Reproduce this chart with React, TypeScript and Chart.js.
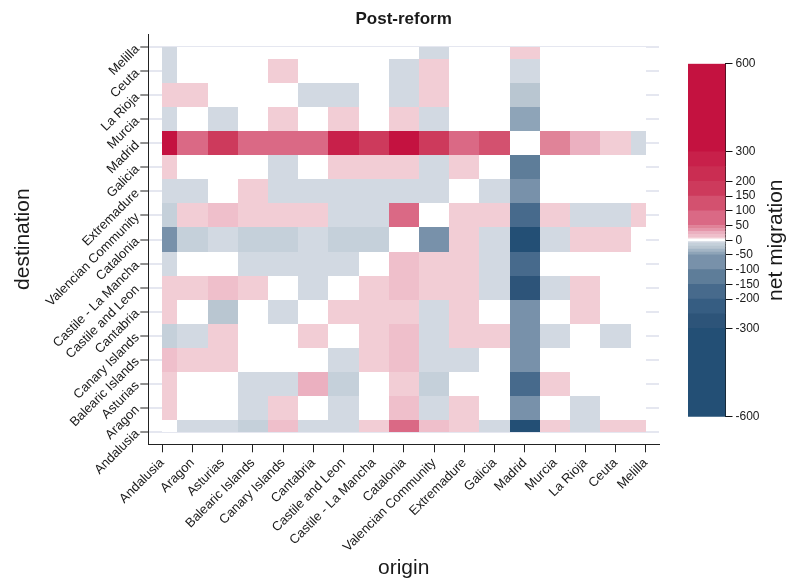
import React, { useEffect, useRef } from "react";
import { Chart, registerables } from "chart.js";

Chart.register(...registerables);

// ---------------- data ----------------
const origins = [
  "Andalusia", "Aragon", "Asturias", "Balearic Islands", "Canary Islands", "Cantabria",
  "Castile and Leon", "Castile - La Mancha", "Catalonia", "Valencian Community", "Extremadure",
  "Galicia", "Madrid", "Murcia", "La Rioja", "Ceuta", "Melilla",
];
const destinations = [
  "Andalusia", "Aragon", "Asturias", "Balearic Islands", "Canary Islands", "Cantabria",
  "Castile and Leon", "Castile - La Mancha", "Catalonia", "Valencian Community", "Extremadure",
  "Galicia", "Madrid", "Murcia", "La Rioja", "Ceuta", "Melilla",
];

// net migration into each destination, one value per origin (same order as `origins`)
const intoAndalusia = [0, -7, -7, -15, 15, -7, -7, 7, 80, 15, 7, -7, -400, 7, -7, 7, 7];
const intoAragon = [7, 0, 0, -7, 7, 0, -7, 0, 15, -7, 7, 0, -70, 0, -7, 0, 0];
const intoAsturias = [7, 0, 0, -7, -7, 25, -15, 0, 7, -15, 0, 0, -170, 7, 0, 0, 0];
const intoBalearic = [15, 7, 7, 0, 0, 0, -7, 7, 15, -7, -7, 0, -70, 0, 0, 0, 0];
const intoCanary = [-15, -7, 7, 0, 0, 7, 0, 7, 15, -7, 7, 7, -70, -7, 0, -7, 0];
const intoCantabria = [7, 0, -25, 0, -7, 0, 7, 7, 7, -7, 7, 0, -70, 0, 7, 0, 0];
const intoCastileLeon = [7, 7, 15, 7, 0, -7, 0, 7, 15, 7, 7, -7, -270, -7, 7, 0, 0];
const intoCastileLaMancha = [-7, 0, 0, -7, -7, -7, -7, 0, 15, 7, 7, -7, -170, 0, 0, 0, 0];
const intoCatalonia = [-70, -15, -7, -15, -15, -7, -15, -15, 0, -70, 7, -7, -400, -7, 7, 7, 0];
const intoValencian = [-15, 7, 15, 7, 7, 7, -7, -7, 80, 0, 7, 7, -170, 7, -7, -7, 7];
const intoExtremadure = [-7, -7, 0, 7, -7, -7, -7, -7, -7, -7, 0, -7, -70, 0, 0, 0, 0];
const intoGalicia = [7, 0, 0, 0, -7, 0, 7, 7, 7, -7, 7, 0, -120, 0, 0, 0, 0];
const intoMadrid = [400, 80, 180, 70, 75, 70, 280, 170, 450, 180, 70, 120, 0, 45, 25, 7, -7];
const intoMurcia = [-7, 0, -7, 0, 7, 0, 7, 0, 7, -7, 0, 0, -45, 0, 0, 0, 0];
const intoLaRioja = [7, 7, 0, 0, 0, -7, -7, 0, -7, 7, 0, 0, -25, 0, 0, 0, 0];
const intoCeuta = [-7, 0, 0, 0, 7, 0, 0, 0, -7, 7, 0, 0, -7, 0, 0, 0, 0];
const intoMelilla = [-7, 0, 0, 0, 0, 0, 0, 0, 0, -7, 0, 0, 7, 0, 0, 0, 0];

const colorbarTicks = [600, 300, 200, 150, 100, 50, 0, -50, -100, -150, -200, -300, -600];

// colour bins (lower bound, upper bound, colour)
const binEdges = [-600, -300, -250, -200, -150, -100, -50, -40, -30, -20, -10, -5, 5, 10, 20, 30, 40, 50, 100, 150, 200, 250, 300, 600];
const binColors = [
  "#234f75", "#2d5479", "#365d82", "#476a8c", "#5e7d99", "#7891aa", "#8ea4b8", "#a3b5c5",
  "#b9c6d1", "#c5d0da", "#d2d9e2", "#ffffff", "#f2cdd5", "#efbfcb", "#ebb0c0", "#e596aa",
  "#e08398", "#da6985", "#d3516f", "#cd3a5c", "#ca2d52", "#c8204a", "#c41240",
];

const netMigration = [
  intoAndalusia, intoAragon, intoAsturias, intoBalearic, intoCanary, intoCantabria,
  intoCastileLeon, intoCastileLaMancha, intoCatalonia, intoValencian, intoExtremadure,
  intoGalicia, intoMadrid, intoMurcia, intoLaRioja, intoCeuta, intoMelilla,
];

const FONT = "'Liberation Sans', Arial, Helvetica, sans-serif";
const TXT = "#1a1a1a";

function colorFor(v: number): string {
  for (let i = 0; i < binColors.length; i++) {
    if (v >= binEdges[i] && v < binEdges[i + 1]) return binColors[i];
  }
  return v < 0 ? binColors[0] : binColors[binColors.length - 1];
}

const heatmapPlugin = {
  id: "heatmapCells",
  beforeDatasetsDraw(chart: any) {
    const { ctx } = chart;
    const xs = chart.scales.x;
    const ys = chart.scales.y;
    const nx = origins.length - 1;
    const ny = destinations.length - 1;
    ctx.save();
    netMigration.forEach((row, r) => {
      row.forEach((v, c) => {
        const x0 = Math.round(xs.getPixelForValue(Math.max(c - 0.5, 0)));
        const x1 = Math.round(xs.getPixelForValue(Math.min(c + 0.5, nx)));
        const y0 = Math.round(ys.getPixelForValue(Math.min(r + 0.5, ny)));
        const y1 = Math.round(ys.getPixelForValue(Math.max(r - 0.5, 0)));
        ctx.fillStyle = colorFor(v);
        ctx.fillRect(x0, y0, x1 - x0, y1 - y0);
      });
    });
    ctx.restore();
  },
  afterDraw(chart: any) {
    const { ctx, chartArea } = chart;
    ctx.save();
    ctx.font = `bold 17px ${FONT}`;
    ctx.fillStyle = TXT;
    ctx.textAlign = "center";
    ctx.textBaseline = "middle";
    ctx.fillText("Post-reform", (chartArea.left + chartArea.right) / 2, 19.5);
    ctx.restore();
  },
};

const cbTitlePlugin = {
  id: "cbTitle",
  afterDraw(chart: any) {
    const { ctx, chartArea } = chart;
    ctx.save();
    ctx.translate(96, (chartArea.top + chartArea.bottom) / 2);
    ctx.rotate(-Math.PI / 2);
    ctx.font = `21px ${FONT}`;
    ctx.fillStyle = TXT;
    ctx.textAlign = "center";
    ctx.textBaseline = "middle";
    ctx.fillText("net migration", 0, 0);
    ctx.restore();
  },
};

export default function App() {
  const mainRef = useRef<HTMLCanvasElement>(null);
  const cbRef = useRef<HTMLCanvasElement>(null);

  useEffect(() => {
    const points: { x: number; y: number }[] = [];
    netMigration.forEach((row, r) => row.forEach((_, c) => points.push({ x: c, y: r })));

    const main = new Chart(mainRef.current!, {
      type: "scatter",
      data: { datasets: [{ data: points, pointRadius: 0, pointHoverRadius: 0 }] },
      options: {
        animation: false,
        responsive: false,
        events: [],
        layout: { padding: { left: 7, right: 131, top: 34, bottom: 0 } },
        plugins: {
          legend: { display: false },
          tooltip: { enabled: false },
          title: { display: false },
        },
        scales: {
          x: {
            type: "linear",
            min: -0.46,
            max: 16.44,
            afterBuildTicks: (s: any) => {
              s.ticks = origins.map((_, i) => ({ value: i }));
            },
            afterFit: (s: any) => {
              s.height = 136.7;
            },
            ticks: {
              autoSkip: false,
              minRotation: 45,
              maxRotation: 45,
              padding: 3,
              color: TXT,
              font: { family: FONT, size: 13 },
              callback: (v: any) => origins[v],
            },
            grid: { drawOnChartArea: false, drawTicks: true, tickLength: 8, tickColor: "#222", tickWidth: 1 },
            border: { color: "#222", width: 1 },
            title: {
              display: true,
              text: "origin",
              color: TXT,
              font: { family: FONT, size: 21 },
              padding: { top: 4, bottom: 0 },
            },
          },
          y: {
            type: "linear",
            min: -0.52,
            max: 16.55,
            afterBuildTicks: (s: any) => {
              s.ticks = destinations.map((_, i) => ({ value: i }));
            },
            afterFit: (s: any) => {
              s.width = 141.3;
            },
            ticks: {
              autoSkip: false,
              minRotation: 45,
              maxRotation: 45,
              padding: 3,
              color: TXT,
              font: { family: FONT, size: 13 },
              callback: (v: any) => destinations[v],
            },
            grid: { color: "#e5e7f0", lineWidth: 2, tickLength: 8, tickColor: "#222", tickWidth: 1 },
            border: { color: "#222", width: 1 },
            title: {
              display: true,
              text: "destination",
              color: TXT,
              font: { family: FONT, size: 21 },
              padding: { top: 4, bottom: 4 },
            },
          },
        },
      },
      plugins: [heatmapPlugin],
    } as any);

    const cb = new Chart(cbRef.current!, {
      type: "bar",
      data: {
        labels: [""],
        datasets: binColors.map((col, i) => ({
          data: [[binEdges[i], binEdges[i + 1]]],
          backgroundColor: col,
          borderWidth: 0,
          grouped: false,
          barPercentage: 1,
          categoryPercentage: 1,
        })),
      },
      options: {
        animation: false,
        responsive: false,
        events: [],
        layout: { padding: { left: 8, top: 13.7, bottom: 13.3, right: 0 } },
        plugins: { legend: { display: false }, tooltip: { enabled: false } },
        scales: {
          x: { display: false },
          y: {
            position: "right",
            min: -600,
            max: 600,
            afterBuildTicks: (s: any) => {
              s.ticks = colorbarTicks.map((v) => ({ value: v }));
            },
            afterFit: (s: any) => {
              s.width = 64.5;
            },
            ticks: {
              padding: 3,
              color: TXT,
              font: { family: FONT, size: 12 },
              callback: (v: any) => String(v),
            },
            grid: { drawOnChartArea: false, tickLength: 7, tickColor: "#111", tickWidth: 1 },
            border: { color: "#111", width: 1 },
          },
        },
      },
      plugins: [cbTitlePlugin],
    } as any);

    return () => {
      main.destroy();
      cb.destroy();
    };
  }, []);

  return (
    <div style={{ position: "absolute", left: 0, top: 0, width: 790, height: 581, background: "#fff" }}>
      <canvas ref={mainRef} width={790} height={581} style={{ position: "absolute", left: 0, top: 0, width: 790, height: 581 }} />
      <canvas ref={cbRef} width={110} height={380} style={{ position: "absolute", left: 680, top: 50, width: 110, height: 380 }} />
    </div>
  );
}
